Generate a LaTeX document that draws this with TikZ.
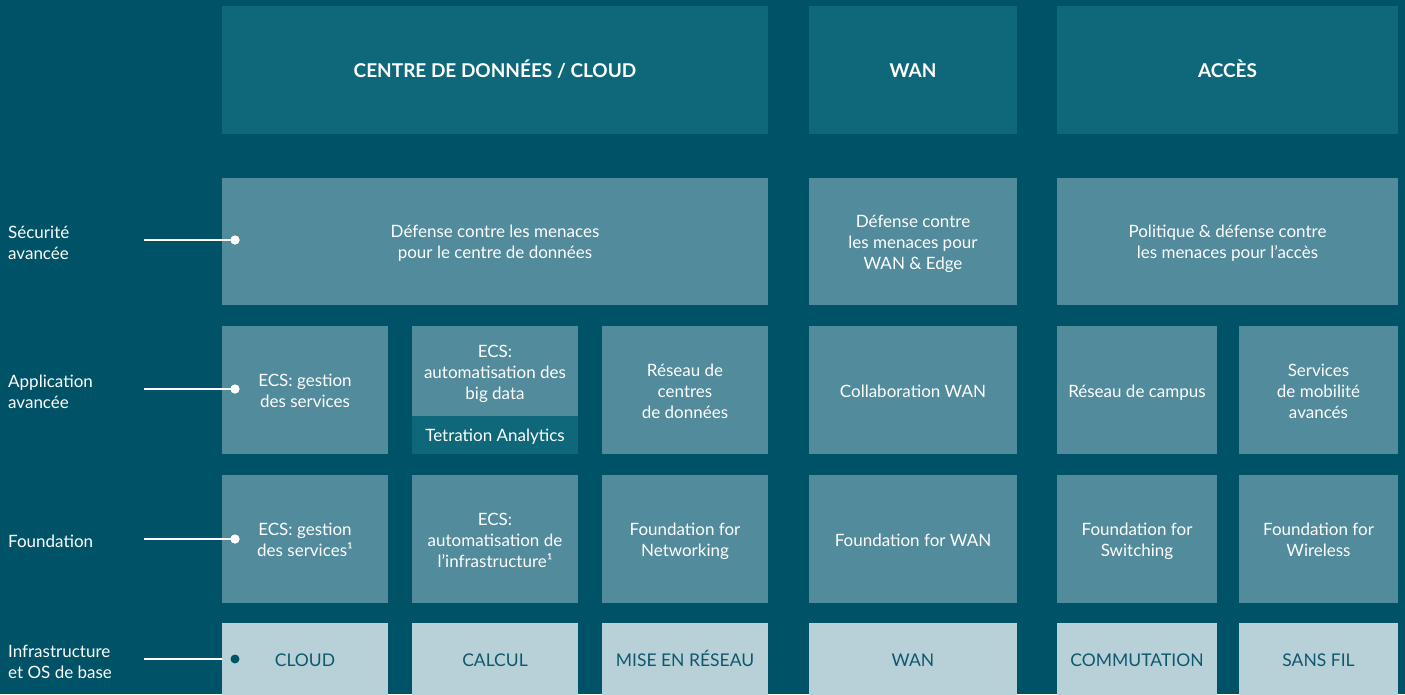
\documentclass[tikz,border=0pt]{standalone}
\usepackage{fontspec}
\setmainfont{Lato}
\definecolor{bgc}{RGB}{0,83,103}
\definecolor{hdc}{RGB}{14,104,122}
\definecolor{midc}{RGB}{82,139,156}
\definecolor{lightc}{RGB}{184,209,217}
\definecolor{darktext}{RGB}{14,88,108}
\newcommand{\ml}[1]{\begin{tabular}{@{}c@{}}\rule{0pt}{21pt}#1\end{tabular}}
\newcommand{\mll}[1]{\begin{tabular}{@{}l@{}}\rule{0pt}{21pt}#1\end{tabular}}
\begin{document}
\begin{tikzpicture}[x=1pt,y=-1pt,
  box/.style={draw=none,inner sep=0pt,text=white,font=\fontsize{17}{21}\selectfont},
  hdr/.style={box,fill=hdc,font=\fontsize{19}{21}\selectfont\bfseries},
  mid/.style={box,fill=midc},
  light/.style={box,fill=lightc,text=darktext,font=\fontsize{17.5}{21}\selectfont},
  lbl/.style={anchor=west,text=white,inner sep=0pt,font=\fontsize{17}{21}\selectfont},
  dot/.style={circle,fill=white,inner sep=0pt,minimum size=9pt},
  ddot/.style={dot,fill=bgc},
  conn/.style={draw=white,line width=1.3pt}]
\fill[bgc] (0,0) rectangle (1405,694);
\useasboundingbox (0,0) rectangle (1405,694);
% headers
\node[hdr,minimum width=546pt,minimum height=128pt] (h1) at (495,70) {\ml{CENTRE DE DONNÉES / CLOUD}};
\node[hdr,minimum width=208pt,minimum height=128pt] (h2) at (913,70) {\ml{WAN}};
\node[hdr,minimum width=341pt,minimum height=128pt] (h3) at (1227.5,70) {\ml{ACCÈS}};
% security row
\node[mid,minimum width=546pt,minimum height=127pt] (s1) at (495,241) {\ml{Défense contre les menaces\\pour le centre de données}};
\node[mid,minimum width=208pt,minimum height=127pt] (s2) at (913,241) {\ml{Défense contre\\les menaces pour\\WAN \& Edge}};
\node[mid,minimum width=341pt,minimum height=127pt] (s3) at (1227.5,241) {\ml{Politique \& défense contre\\les menaces pour l'accès}};
% application row
\node[mid,minimum width=166pt,minimum height=128pt] (a1) at (305,390) {\ml{ECS: gestion\\des services}};
\node[mid,minimum width=166pt,minimum height=90pt] (a2) at (495,371) {\ml{ECS:\\automatisation des\\big data}};
\node[box,fill=hdc,minimum width=166pt,minimum height=38pt] (a2t) at (495,434.5) {\ml{Tetration Analytics}};
\node[mid,minimum width=166pt,minimum height=128pt] (a3) at (685,390) {\ml{Réseau de\\centres\\de données}};
\node[mid,minimum width=208pt,minimum height=128pt] (a4) at (913,390) {\ml{Collaboration WAN}};
\node[mid,minimum width=160pt,minimum height=128pt] (a5) at (1137,390) {\ml{Réseau de campus}};
\node[mid,minimum width=159pt,minimum height=128pt] (a6) at (1318.5,390) {\ml{Services\\de mobilité\\avancés}};
% foundation row
\node[mid,minimum width=166pt,minimum height=128pt] (f1) at (305,539) {\ml{ECS: gestion\\des services¹}};
\node[mid,minimum width=166pt,minimum height=128pt] (f2) at (495,539) {\ml{ECS:\\automatisation de\\l'infrastructure¹}};
\node[mid,minimum width=166pt,minimum height=128pt] (f3) at (685,539) {\ml{Foundation for\\Networking}};
\node[mid,minimum width=208pt,minimum height=128pt] (f4) at (913,539) {\ml{Foundation for WAN}};
\node[mid,minimum width=160pt,minimum height=128pt] (f5) at (1137,539) {\ml{Foundation for\\Switching}};
\node[mid,minimum width=159pt,minimum height=128pt] (f6) at (1318.5,539) {\ml{Foundation for\\Wireless}};
% infra row
\node[light,minimum width=166pt,minimum height=72pt] (i1) at (305,659) {\ml{CLOUD}};
\node[light,minimum width=166pt,minimum height=72pt] (i2) at (495,659) {\ml{CALCUL}};
\node[light,minimum width=166pt,minimum height=72pt] (i3) at (685,659) {\ml{MISE EN RÉSEAU}};
\node[light,minimum width=208pt,minimum height=72pt] (i4) at (913,659) {\ml{WAN}};
\node[light,minimum width=160pt,minimum height=72pt] (i5) at (1137,659) {\ml{COMMUTATION}};
\node[light,minimum width=159pt,minimum height=72pt] (i6) at (1318.5,659) {\ml{SANS FIL}};
% labels
\node[lbl] (l1) at (8,242) {\mll{Sécurité\\avancée}};
\node[lbl] (l2) at (8,391) {\mll{Application\\avancée}};
\node[lbl] (l3) at (8,540) {\mll{Foundation}};
\node[lbl] (l4) at (8,661) {\mll{Infrastructure\\et OS de base}};
% connectors
\coordinate (c1) at (144,240);
\coordinate (c2) at (144,389);
\coordinate (c3) at (144,539);
\coordinate (c4) at (144,659);
\node[dot] (d1) at (235,240) {};
\node[dot] (d2) at (235,389) {};
\node[dot] (d3) at (235,539) {};
\node[ddot] (d4) at (235,659) {};
\draw[conn] (c1) -- (d1.center);
\draw[conn] (c2) -- (d2.center);
\draw[conn] (c3) -- (d3.center);
\draw[conn] (c4) -- (c4 -| i1.west);
\node[dot] at (d1) {};
\node[dot] at (d2) {};
\node[dot] at (d3) {};
\end{tikzpicture}
\end{document}
